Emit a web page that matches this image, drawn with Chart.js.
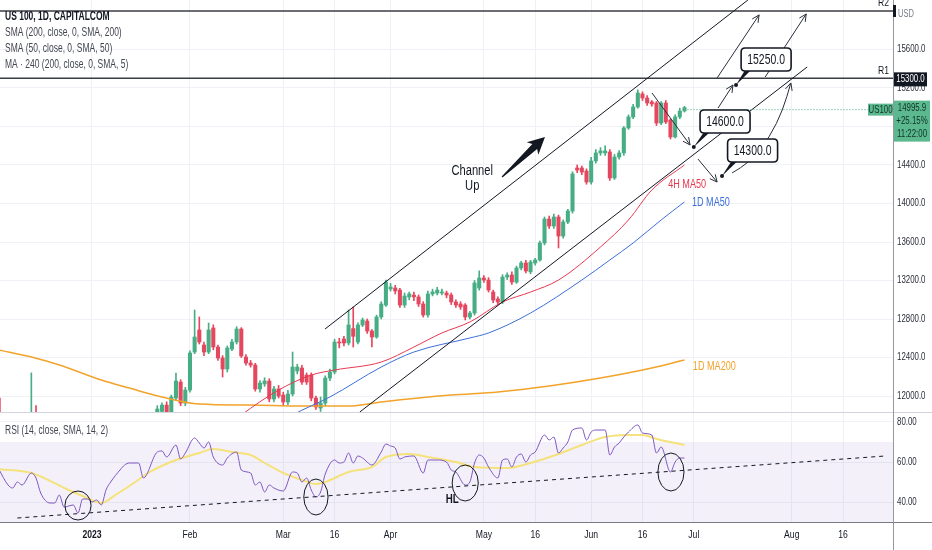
<!DOCTYPE html>
<html><head><meta charset="utf-8">
<script src="https://cdn.jsdelivr.net/npm/chart.js@4.4.0/dist/chart.umd.min.js"></script>
<style>
html,body{margin:0;padding:0;background:#fff;width:932px;height:550px;overflow:hidden}
#p{position:absolute;left:0;top:0;width:932px;height:412px}
#r{position:absolute;left:0;top:412px;width:932px;height:138px}
</style></head><body>
<div id="p"><canvas id="cp" width="932" height="412"></canvas></div>
<div id="r"><canvas id="cr" width="932" height="138"></canvas></div>
<script>
// ---------- DATA ----------
const tickIdx = [20,41,61,72,84,104,115,127,138,149,170,181];
const tickLabels = ['2023','Feb','Mar','16','Apr','May','16','Jun','16','Jul','Aug','16'];
const priceTicks = [12000,12400,12800,13200,13600,14000,14400,14800,15200,15600];
const rsiTicks = [40,60,80];

const opens = [11979,11700,11600,11520,11620,11600,11740,11790,11823,11700,
11400,11250,11300,11100,11150,10950,11050,10900,10750,10900,
10850,10780,10850,10800,11020,11050,11200,11150,11320,11400,
11450,11420,11280,11350,11700,11840,11906,11803,11979,12145,
11927,12062,12457,12686,12530,12457,12707,12509,12395,12281,
12488,12561,12696,12405,12343,12322,12073,12125,12156,11969,
12073,12010,11938,12021,12260,12291,12218,12218,11979,11875,
11927,12187,12249,12561,12592,12551,12700,12561,12738,12779,
12675,12613,12821,12945,13112,13122,13101,12945,13029,13049,
13029,12956,12842,13060,13070,13070,13070,13049,12977,12956,
12945,12821,12862,13122,13226,13205,13081,13008,12977,13236,
13257,13184,13330,13382,13290,13382,13413,13590,13839,13766,
13860,13662,13808,13922,14369,14369,14338,14223,14442,14525,
14525,14535,14265,14483,14525,14785,14899,15003,15138,15096,
15055,15044,14836,15044,14867,14691,14899,14961];
const highs = [12000,11760,11650,11640,11700,11780,11800,12240,11900,11720,
11450,11350,11320,11200,11180,11100,11100,10980,10950,10950,
11000,10900,10900,11050,11100,11250,11280,11350,11450,11500,
11520,11480,11400,11650,11900,11930,11940,12010,12239,12170,
12090,12470,12894,12821,12560,12758,12740,12530,12420,12520,
12590,12720,12710,12430,12370,12340,12160,12190,12180,12100,
12110,12040,12060,12457,12330,12320,12240,12240,12000,11990,
12210,12280,12590,12600,12620,12894,12925,12760,12810,12800,
12690,12840,12980,13205,13170,13150,13120,13070,13080,13080,
13050,12980,13090,13110,13130,13110,13090,13070,13000,12980,
12960,12880,13200,13300,13250,13230,13100,13030,13260,13280,
13290,13350,13400,13410,13410,13430,13610,13860,13870,13890,
13880,13830,13940,14330,14400,14390,14360,14480,14560,14580,
14600,14560,14510,14550,14800,14920,15030,15180,15160,15120,
15070,15060,15060,15070,14880,14920,14990,15010];
const lows = [11650,11550,11480,11470,11560,11580,11650,11700,11600,11350,
11200,11150,11050,11000,10900,10900,10850,10700,10720,10780,
10700,10700,10750,10780,10950,11020,11100,11120,11280,11350,
11380,11250,11200,11330,11650,11780,11760,11780,11960,11900,
11900,12040,12440,12540,12420,12440,12480,12370,12197,12250,
12470,12540,12400,12320,12300,12050,12040,12100,11940,11940,
11980,11900,11910,12000,12230,12120,12120,11950,11860,11840,
11900,12160,12230,12500,12520,12530,12509,12540,12720,12650,
12509,12600,12800,12930,13090,13060,12920,12920,13000,12990,
12930,12820,12820,13040,13050,13050,13020,12950,12920,12900,
12790,12800,12840,13100,13180,13080,12970,12950,12960,13210,
13160,13170,13310,13280,13270,13360,13400,13570,13740,13740,
13538,13640,13790,13900,14320,14300,14200,14200,14420,14500,
14500,14240,14250,14460,14500,14770,14880,14990,15070,15020,
15010,14810,14820,14830,14670,14680,14880,14950];
const closes = [11700,11600,11520,11620,11600,11740,11790,11823,11700,11400,
11250,11300,11100,11150,10950,11050,10900,10750,10900,10850,
10780,10850,10800,11020,11050,11200,11150,11320,11400,11450,
11420,11280,11350,11620,11865,11906,11803,11990,12156,11927,
12062,12447,12613,12561,12457,12686,12509,12395,12281,12499,
12561,12696,12416,12343,12322,12073,12135,12156,11969,12073,
12000,11938,12021,12301,12301,12145,12145,11979,11886,11927,
12187,12249,12561,12551,12551,12738,12620,12738,12790,12675,
12613,12821,12956,13184,13133,13091,12945,13039,13060,13029,
12956,12842,13060,13081,13101,13081,13049,12977,12945,12925,
12821,12862,13174,13226,13205,13101,12997,12977,13236,13257,
13184,13330,13382,13299,13392,13413,13590,13839,13766,13860,
13662,13808,13922,14307,14348,14327,14223,14442,14525,14546,
14546,14265,14483,14525,14785,14899,15003,15148,15096,15044,
15034,14836,15044,14847,14691,14899,14961,14995.9];

const ma200Idx = [0,7,13,22,28,35,43,54,65,75,82,97,107,118,129,140,147];
const ma200Val = [12478,12405,12322,12166,12083,11990,11917,11906,11896,11896,11938,12010,12042,12104,12187,12291,12374];
const ma50Idx = [58,63,71,82,89,101,105,114,125,131,136,142,147];
const ma50Val = [11650,11803,11990,12301,12457,12603,12655,12862,13205,13413,13590,13829,14016];
const ma4hIdx = [48,52,60,67,72,82,89,95,101,108,114,120,129,135,140,147];
const ma4hVal = [11650,11803,12062,12218,12270,12353,12509,12655,12769,12977,13080,13205,13548,13829,14140,14400];

const rsiIdx = [0,2,3,4,5,7,8,9,11,12,13,14,16,17,18,19,20,21,22,23,24,26,27,28,30,31,34,35,36,38,39,40,42,43,44,45,46,48,49,51,52,54,55,56,57,58,59,61,63,64,65,66,67,68,69,70,72,73,74,75,76,77,78,80,82,83,84,85,86,87,89,91,92,94,96,97,98,100,101,102,103,104,105,107,108,109,110,111,112,113,114,115,117,118,119,120,121,122,123,125,126,127,128,130,131,132,133,134,135,137,138,140,141,142,144,145,146,147];
const rsiVal = [56.5,48.5,47,50,48.5,54.5,52,44.5,39.5,39.5,43.5,37.5,38.5,34.5,41.5,41.5,40,41,38.5,46,50,56,58.5,59.5,59.5,52,65,65.5,62.5,68.5,61.5,64.5,72,69.5,67,70,62.5,58.5,62,65,56,54.5,48.5,50,45,48.5,47,45.5,55,54.5,50,52,46,42.5,45,54,61,59.5,60,64.5,59.5,63,62,58.5,65,69,68,67,61.5,62.5,63,54.5,61,61,60,56,55,48.5,50,59.5,63.5,62,57.5,52,61,61.5,57.5,62.5,64,60,63.5,65,73.5,71,72.5,64.5,67,70,76,77,71,75,76,76,63.5,67.5,69.5,72.5,75,78.5,74.5,73.5,64.5,67.5,55,60,62,62];
const rsiMaIdx = [0,7,15,18,22,25,29,32,38,43,46,50,54,57,61,65,68,70,75,80,83,88,92,98,102,109,114,120,125,130,135,138,141,145,147];
const rsiMaVal = [56.5,54.5,46,43,39.5,43.5,49.5,54.5,61,64.5,66.5,65,63.5,59.5,54.5,51,49,50,55,57.5,62.5,64,62.5,60,57.5,57,59.5,64,68.5,72.5,73.5,73.5,71.5,69.5,68.5];
const rsiTrend = [[4,32],[190,63]];

const R1 = 15300, R2 = 16000;
const upperChannel = [[69.95,12696],[160.6,16114]];
const lowerChannel = [[77.4,11834],[173.3,15418]];
const arrowLines = [[140.05,15148,148.2,14608],[149.9,14462,154.0,14223],[154.2,14992,157.4,15231],[154.0,15304,163.0,15959],[164.3,15314,173.1,15969]];
const curvePath = [[157.2,14317],[161.0,14421],[165.3,14691],[168.1,14972],[169.8,15252]];
const callouts = [
  {text:'15250.0', ci:164.5, cp:15496, ai:158.05, ap:15231},
  {text:'14600.0', ci:155.7, cp:14852, ai:149.0, ap:14587},
  {text:'14300.0', ci:161.6, cp:14551, ai:155.05, ap:14286}
];
const bigArrow = [[107.9,14275],[117.1,14691]];
const channelText = {i:101.5, p:[14338,14182], lines:['Channel','Up']};
const maLabels = [
  {text:'4H MA50', i:143.5, p:14203, color:'#e5394f'},
  {text:'1D MA50', i:148.6, p:14016, color:'#3d6fd8'},
  {text:'1D MA200', i:148.8, p:12312, color:'#f2a32a'}
];
const rsiCircles = [[17.0,38.25,2.8,7.25],[68.0,42.5,2.6,9],[100.0,49.5,2.8,9],[144.1,55,2.8,9.5]];
const hlLabel = {text:'HL', i:97.2, v:41.5};
const legendLines = ['US 100, 1D, CAPITALCOM','SMA (200, close, 0, SMA, 200)','SMA (50, close, 0, SMA, 50)','MA \u00b7 240 (200, close, 0, SMA, 5)'];
const rsiTitle = 'RSI (14, close, SMA, 14, 2)';
const lastChange = '+25.15%', lastTime = '11:22:00', symbol = 'US100';

// ---------- STYLE ----------
const FONT = "'Liberation Sans', Arial, sans-serif";
const SX = 0.75;
const UP = '#47ad84', DN = '#e5475f';
const X_MIN = 0.28, X_MAX = 191.7;
const GRID = '#eff1f6';

const idx = closes.map((_, i) => i);
const bodyData = idx.map(i => ({x:i, y:[opens[i], closes[i]]}));
const wickData = idx.map(i => ({x:i, y:[lows[i], highs[i]]}));
const candleColors = idx.map(i => closes[i] >= opens[i] ? UP : DN);
const pts = (a, b) => a.map((v, k) => ({x:v, y:b[k]}));
const pairPts = arr => arr.map(p => ({x:p[0], y:p[1]}));

function txt(ctx, s, x, y, size, o){
  o = o || {};
  ctx.save();
  ctx.font = (o.weight || 'normal') + ' ' + size + 'px ' + FONT;
  ctx.fillStyle = o.color || '#131722';
  ctx.textAlign = o.align || 'left';
  ctx.textBaseline = 'middle';
  ctx.translate(x, y); ctx.scale(o.sx || SX, 1);
  ctx.fillText(s, 0, 0);
  ctx.restore();
}

function noPad(s){ s.paddingTop = 0; s.paddingBottom = 0; s.paddingLeft = 0; s.paddingRight = 0; }

function xAxis(h){
  return {
    type:'linear', min:X_MIN, max:X_MAX, offset:false,
    afterBuildTicks: s => { s.ticks = tickIdx.map(v => ({value:v})); },
    grid:{color:GRID, drawTicks:false, offset:false},
    border:{display:false},
    ticks:{display:false},
    afterFit: s => { s.height = h; noPad(s); }
  };
}
function yAxis(mn, mx, ticks){
  return {
    type:'linear', position:'right', min:mn, max:mx,
    afterBuildTicks: s => { s.ticks = ticks.map(v => ({value:v})); },
    grid:{color:GRID, drawTicks:false}, border:{display:false},
    ticks:{display:false},
    afterFit: s => { s.width = 39; noPad(s); }
  };
}

function arrowHead(ctx, x1, y1, x2, y2, len){
  const a = Math.atan2(y2 - y1, x2 - x1);
  ctx.beginPath();
  ctx.moveTo(x2 - len*Math.cos(a - 0.45), y2 - len*Math.sin(a - 0.45));
  ctx.lineTo(x2, y2);
  ctx.lineTo(x2 - len*Math.cos(a + 0.45), y2 - len*Math.sin(a + 0.45));
  ctx.stroke();
}
function rrect(ctx, x, y, w, h, r){
  ctx.beginPath();
  ctx.moveTo(x + r, y); ctx.lineTo(x + w - r, y); ctx.quadraticCurveTo(x + w, y, x + w, y + r);
  ctx.lineTo(x + w, y + h - r); ctx.quadraticCurveTo(x + w, y + h, x + w - r, y + h);
  ctx.lineTo(x + r, y + h); ctx.quadraticCurveTo(x, y + h, x, y + h - r);
  ctx.lineTo(x, y + r); ctx.quadraticCurveTo(x, y, x + r, y); ctx.closePath();
}

const pricePlugin = {
  id:'priceAnnot',
  afterDraw(ch){
    const ctx = ch.ctx, X = ch.scales.x, Y = ch.scales.y, A = ch.chartArea;
    const px = (i, p) => [X.getPixelForValue(i), Y.getPixelForValue(p)];
    ctx.save();
    ctx.strokeStyle = '#9598a1'; ctx.lineWidth = 1;
    ctx.beginPath(); ctx.moveTo(A.right + 0.5, 0); ctx.lineTo(A.right + 0.5, ch.height); ctx.stroke();
    priceTicks.forEach(v => txt(ctx, v.toFixed(1), A.right + 4, Y.getPixelForValue(v), 10.5, {color:'#2a2e39'}));
    const last = closes.length - 1;
    const [lx, ly] = px(last, closes[last]);
    ctx.strokeStyle = UP; ctx.lineWidth = 1; ctx.setLineDash([1, 2]);
    ctx.beginPath(); ctx.moveTo(lx + 3, ly + 2); ctx.lineTo(A.right, ly + 2); ctx.stroke();
    ctx.setLineDash([]);
    ctx.strokeStyle = '#2a2e39'; ctx.lineWidth = 1;
    arrowLines.forEach(a => {
      const [x1, y1] = px(a[0], a[1]), [x2, y2] = px(a[2], a[3]);
      ctx.beginPath(); ctx.moveTo(x1, y1); ctx.lineTo(x2, y2); ctx.stroke();
      arrowHead(ctx, x1, y1, x2, y2, 8);
    });
    const cp = curvePath.map(p => px(p[0], p[1]));
    ctx.beginPath(); ctx.moveTo(cp[0][0], cp[0][1]);
    for (let k = 1; k < cp.length - 1; k++){
      const mx = (cp[k][0] + cp[k+1][0]) / 2, my = (cp[k][1] + cp[k+1][1]) / 2;
      ctx.quadraticCurveTo(cp[k][0], cp[k][1], mx, my);
    }
    ctx.lineTo(cp[cp.length-1][0], cp[cp.length-1][1]); ctx.stroke();
    arrowHead(ctx, cp[cp.length-2][0], cp[cp.length-2][1], cp[cp.length-1][0], cp[cp.length-1][1], 8);
    const [bx1, by1] = px(bigArrow[0][0], bigArrow[0][1]), [bx2, by2] = px(bigArrow[1][0], bigArrow[1][1]);
    const ang = Math.atan2(by2 - by1, bx2 - bx1), L = Math.hypot(bx2 - bx1, by2 - by1);
    ctx.save(); ctx.translate(bx1, by1); ctx.rotate(ang); ctx.fillStyle = '#131722';
    ctx.beginPath(); ctx.moveTo(0, -0.6); ctx.lineTo(L - 14, -3.5); ctx.lineTo(L - 17, -8.5); ctx.lineTo(L, 0);
    ctx.lineTo(L - 17, 8.5); ctx.lineTo(L - 14, 3.5); ctx.lineTo(0, 0.6); ctx.closePath(); ctx.fill();
    ctx.restore();
    channelText.lines.forEach((t, k) => { const [tx, ty] = px(channelText.i, channelText.p[k]); txt(ctx, t, tx, ty, 15.5, {align:'center', sx:0.72}); });
    maLabels.forEach(m => { const [tx, ty] = px(m.i, m.p); txt(ctx, m.text, tx, ty, 13, {color:m.color, sx:0.7}); });
    callouts.forEach(c => {
      const [cx, cy] = px(c.ci, c.cp), [ax, ay] = px(c.ai, c.ap);
      const w = 50, h = 23, x = cx - w/2, y = cy - h/2;
      ctx.fillStyle = '#131722';
      ctx.beginPath(); ctx.moveTo(ax, ay); ctx.lineTo(x + 4, y + h - 1); ctx.lineTo(x + 10, y + h - 1); ctx.closePath(); ctx.fill();
      ctx.beginPath(); ctx.arc(ax, ay, 2, 0, Math.PI*2); ctx.fill();
      rrect(ctx, x, y, w, h, 4); ctx.fillStyle = '#fff'; ctx.fill();
      ctx.strokeStyle = '#131722'; ctx.lineWidth = 1.6; ctx.stroke();
      txt(ctx, c.text, cx, cy + 1, 14.5, {align:'center', sx:0.72});
    });
    txt(ctx, legendLines[0], 5, 17, 12.5, {weight:'bold', sx:0.68});
    for (let k = 1; k < legendLines.length; k++) txt(ctx, legendLines[k], 5, 17 + 16*k, 12.5, {color:'#434651', sx:0.68});
    const yR1 = Y.getPixelForValue(R1), yR2 = Y.getPixelForValue(R2);
    txt(ctx, 'R1', A.right - 4, yR1 - 8, 11.5, {align:'right'});
    txt(ctx, 'R2', A.right - 4, yR2 - 8, 11.5, {align:'right'});
    ctx.fillStyle = '#131722'; ctx.fillRect(A.right, yR2 - 6, 3, 12);
    txt(ctx, 'USD', A.right + 5, 14, 10, {color:'#787b86'});
    ctx.fillStyle = '#131722'; ctx.fillRect(A.right + 1, yR1 - 6, 33, 14);
    txt(ctx, R1.toFixed(1), A.right + 17.5, yR1 + 1, 10.5, {align:'center', color:'#fff'});
    const yl = Y.getPixelForValue(closes[last]);
    ctx.fillStyle = '#5cb88e';
    ctx.fillRect(A.right - 25, yl - 4, 25, 12);
    ctx.fillRect(A.right + 1, yl - 7, 36, 41);
    const dark = {align:'center', color:'#0e3325'};
    txt(ctx, symbol, A.right - 12.5, yl + 2, 10.5, dark);
    txt(ctx, closes[last].toFixed(1), A.right + 19, yl + 0.5, 10.5, dark);
    txt(ctx, lastChange, A.right + 19, yl + 13.5, 10.5, dark);
    txt(ctx, lastTime, A.right + 19, yl + 26.5, 10.5, dark);
    ctx.restore();
  }
};

const rsiPlugin = {
  id:'rsiAnnot',
  beforeDatasetsDraw(ch){
    const ctx = ch.ctx, Y = ch.scales.y, A = ch.chartArea;
    ctx.save();
    ctx.fillStyle = 'rgba(126,87,194,0.09)';
    const y70 = Y.getPixelForValue(70), y30 = Y.getPixelForValue(30);
    ctx.fillRect(A.left, y70, A.right - A.left, y30 - y70);
    ctx.restore();
  },
  afterDraw(ch){
    const ctx = ch.ctx, X = ch.scales.x, Y = ch.scales.y, A = ch.chartArea;
    ctx.save();
    ctx.strokeStyle = '#131722'; ctx.lineWidth = 1;
    rsiCircles.forEach(c => {
      const cx = X.getPixelForValue(c[0]), cy = Y.getPixelForValue(c[1]);
      const rx = Math.abs(X.getPixelForValue(c[0] + c[2]) - cx), ry = Math.abs(Y.getPixelForValue(c[1] + c[3]) - cy);
      ctx.beginPath(); ctx.ellipse(cx, cy, rx, ry, 0, 0, Math.PI*2); ctx.stroke();
    });
    txt(ctx, hlLabel.text, X.getPixelForValue(hlLabel.i), Y.getPixelForValue(hlLabel.v), 13, {weight:'bold', align:'center'});
    txt(ctx, rsiTitle, 5, A.top + 18, 12.5, {color:'#434651', sx:0.68});
    rsiTicks.forEach(v => txt(ctx, v.toFixed(2), A.right + 4, Y.getPixelForValue(v), 10.5, {color:'#2a2e39'}));
    tickIdx.forEach((v, k) => txt(ctx, tickLabels[k], X.getPixelForValue(v), A.bottom + 13, 11.5, {align:'center', weight: k === 0 ? 'bold' : 'normal'}));
    ctx.lineWidth = 1;
    ctx.strokeStyle = '#d1d4dc';
    ctx.beginPath(); ctx.moveTo(0, A.top - 0.5); ctx.lineTo(ch.width, A.top - 0.5); ctx.stroke();
    ctx.strokeStyle = '#787b86';
    ctx.beginPath(); ctx.moveTo(0, A.bottom + 0.5); ctx.lineTo(ch.width, A.bottom + 0.5); ctx.stroke();
    ctx.strokeStyle = '#9598a1';
    ctx.beginPath(); ctx.moveTo(A.right + 0.5, 0); ctx.lineTo(A.right + 0.5, ch.height); ctx.stroke();
    ctx.restore();
  }
};

const lineDs = (data, color, w, extra) => Object.assign({type:'line', data, borderColor:color, borderWidth:w, pointRadius:0, fill:false, cubicInterpolationMode:'monotone'}, extra || {});

new Chart(document.getElementById('cp'), {
  type:'line',
  data:{datasets:[
    lineDs(pairPts(upperChannel), '#131722', 1, {tension:0}),
    lineDs(pairPts(lowerChannel), '#131722', 1, {tension:0}),
    lineDs([{x:X_MIN, y:R1}, {x:X_MAX, y:R1}], '#3a3d45', 1.5, {tension:0}),
    lineDs([{x:X_MIN, y:R2}, {x:X_MAX, y:R2}], '#3a3d45', 1.5, {tension:0}),
    lineDs(pts(ma4hIdx, ma4hVal), '#e5394f', 1),
    lineDs(pts(ma50Idx, ma50Val), '#3d6fd8', 1),
    lineDs(pts(ma200Idx, ma200Val), '#f2a32a', 1.5),
    {type:'bar', data:bodyData, backgroundColor:candleColors, barThickness:3.4, grouped:false, minBarLength:1, borderWidth:0},
    {type:'bar', data:wickData, backgroundColor:candleColors, barThickness:1, grouped:false, borderWidth:0}
  ]},
  options:{
    responsive:false, animation:false, events:[],
    layout:{padding:0},
    plugins:{legend:{display:false}, tooltip:{enabled:false}},
    scales:{ x: xAxis(0), y: yAxis(11834, 16114, priceTicks) }
  },
  plugins:[pricePlugin]
});

new Chart(document.getElementById('cr'), {
  type:'line',
  data:{datasets:[
    lineDs(pairPts(rsiTrend), '#131722', 1, {tension:0, borderDash:[4,4]}),
    lineDs(pts(rsiIdx, rsiVal), '#7e57c2', 1, {tension:0}),
    lineDs(pts(rsiMaIdx, rsiMaVal), '#f5e27c', 2)
  ]},
  options:{
    responsive:false, animation:false, events:[],
    layout:{padding:{top:1, left:0, right:0, bottom:0}},
    plugins:{legend:{display:false}, tooltip:{enabled:false}},
    scales:{ x: xAxis(28), y: yAxis(30, 84.5, rsiTicks) }
  },
  plugins:[rsiPlugin]
});
</script>
</body></html>
